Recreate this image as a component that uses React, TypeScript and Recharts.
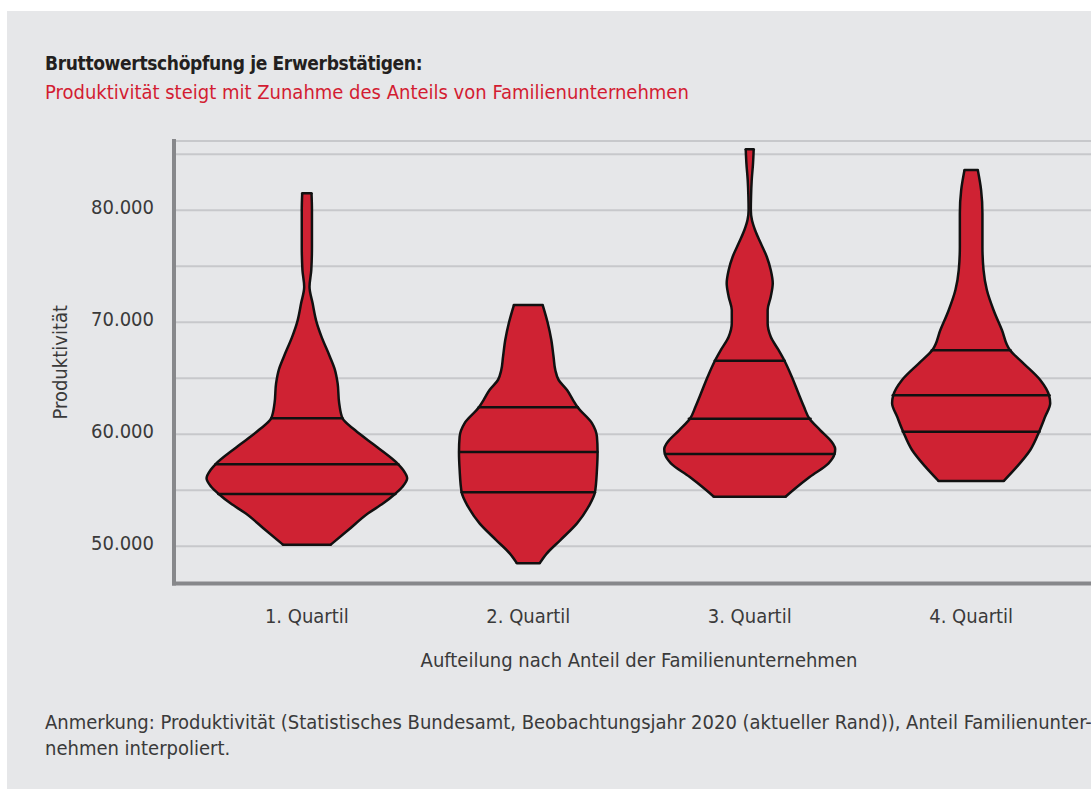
import React from "react";
import { Area, CartesianGrid, ComposedChart, Scatter, XAxis, YAxis } from "recharts";

const FONT = "'DejaVu Sans Condensed', 'Liberation Sans Narrow', 'DejaVu Sans', sans-serif";

const categories = ["1. Quartil", "2. Quartil", "3. Quartil", "4. Quartil"];
const categoryTicks = [1, 2, 3, 4];
const yTicks = [50000, 55000, 60000, 65000, 70000, 75000, 80000, 85000];
const labelledTicks = [50000, 60000, 70000, 80000];

// violin outlines, read bottom to top: [Produktivität, half width in category units]
const profile1: [number, number][] = [
  [50150, 0.108], [51450, 0.187], [52950, 0.277], [53840, 0.345], [54670, 0.398],
  [55320, 0.432], [56070, 0.453], [56810, 0.435], [57320, 0.413], [58890, 0.315],
  [60380, 0.217], [61430, 0.161], [62770, 0.146], [64550, 0.139], [65740, 0.127],
  [66930, 0.104], [68720, 0.066], [70000, 0.044], [71700, 0.026], [73180, 0.012],
  [74670, 0.02], [76750, 0.023], [80030, 0.023], [81520, 0.021],
];
const profile2: [number, number][] = [
  [48480, 0.051], [49375, 0.084], [50560, 0.145], [52050, 0.22], [53540, 0.272],
  [54820, 0.301], [56810, 0.31], [58420, 0.313], [59790, 0.31], [60980, 0.288],
  [62410, 0.223], [63060, 0.202], [63950, 0.175], [64850, 0.137], [65740, 0.122],
  [66930, 0.114], [68420, 0.104], [70000, 0.087], [71540, 0.065],
];
const profile3: [number, number][] = [
  [54430, 0.162], [55030, 0.197], [56210, 0.272], [57410, 0.356], [58240, 0.383],
  [58700, 0.386], [59200, 0.375], [60380, 0.318], [61390, 0.27], [62460, 0.245],
  [63660, 0.22], [65140, 0.19], [66570, 0.157], [67530, 0.13], [68710, 0.095],
  [69910, 0.081], [71100, 0.081], [72290, 0.095], [73480, 0.104], [74670, 0.095],
  [75860, 0.077], [77050, 0.05], [78240, 0.024], [79130, 0.01], [80030, 0.005],
  [81210, 0.006], [82700, 0.009], [84200, 0.015], [85450, 0.018],
];
const profile4: [number, number][] = [
  [55830, 0.147], [57110, 0.207], [58600, 0.267], [60230, 0.307], [61570, 0.334],
  [62770, 0.357], [63480, 0.352], [64850, 0.312], [66340, 0.236], [67500, 0.176],
  [69310, 0.139], [71100, 0.101], [72880, 0.071], [74670, 0.056], [76750, 0.051],
  [79730, 0.051], [81810, 0.045], [83600, 0.03],
];
const profiles = [profile1, profile2, profile3, profile4];

// quartile lines: [Produktivität, half width] for unteres Quartil, Median, oberes Quartil
const quartiles: [number, number][][] = [
  [[54670, 0.4], [57320, 0.413], [61430, 0.161]],
  [[54820, 0.301], [58420, 0.312], [62410, 0.224]],
  [[58240, 0.383], [61390, 0.275], [66570, 0.158]],
  [[60230, 0.309], [63480, 0.354], [67500, 0.178]],
];

const RED = "#cf2233";
const OUTLINE = "#111111";
const AXIS = "#87888b";
const TEXT = "#3a3a3a";

const keys = categories.map((_, i) => `v${i + 1}`);

// one row per outline point; the other violins get an empty range there
const rows = profiles
  .flatMap((p, i) =>
    p.map(([y, w]) => {
      const row: Record<string, any> = { y };
      keys.forEach((k, j) => {
        row[k] = j === i ? [i + 1 - w, i + 1 + w] : [null, null];
      });
      return row;
    })
  )
  .sort((a, b) => a.y - b.y);

// horizontal segments: quartiles plus the flat ends of each violin
const segments = profiles.flatMap((p, i) =>
  [p[0], p[p.length - 1], ...quartiles[i]].map(([y, w]) => [
    { x: i + 1 - w, y },
    { x: i + 1 + w, y },
  ])
);

const NoDot = () => <g />;

const formatY = (v: number) => (labelledTicks.includes(v) ? `${v / 1000}.000` : "");

export default function App() {
  return (
    <div style={{ position: "absolute", left: 0, top: 0, width: 1091, height: 789, overflow: "hidden", background: "#fff" }}>
      <div style={{ position: "absolute", left: 7, top: 11, right: 0, bottom: 0, background: "#e6e7e9" }} />
      <div style={{ position: "absolute", left: 45, top: 53, fontFamily: FONT, fontSize: 19, lineHeight: "20px", letterSpacing: -0.35, fontWeight: "bold", color: "#231f20", whiteSpace: "nowrap" }}>
        Bruttowertschöpfung je Erwerbstätigen:
      </div>
      <div style={{ position: "absolute", left: 45, top: 82, fontFamily: FONT, fontSize: 20, lineHeight: "20px", color: "#d31c32", whiteSpace: "nowrap" }}>
        Produktivität steigt mit Zunahme des Anteils von Familienunternehmen
      </div>
      <div style={{ position: "absolute", left: 0, top: 0 }}>
        <ComposedChart
          layout="vertical"
          data={rows}
          width={1104}
          height={789}
          margin={{ top: 141, right: 0, bottom: 115.5, left: 0 }}
        >
          <CartesianGrid horizontal vertical={false} stroke="#c7c8cb" strokeWidth={2} />
          <XAxis
            type="number"
            dataKey="x"
            domain={[0.4, 4.6]}
            ticks={categoryTicks}
            allowDataOverflow
            tickFormatter={(v: number) => categories[v - 1]}
            axisLine={{ stroke: AXIS, strokeWidth: 4, strokeLinecap: "square" }}
            tickLine={false}
            tickSize={8}
            tickMargin={17.5}
            height={90}
            tick={{ fontSize: 20, fill: TEXT, fontFamily: FONT }}
            label={{ value: "Aufteilung nach Anteil der Familienunternehmen", position: "insideBottom", offset: 7, fontSize: 20, fill: TEXT, fontFamily: FONT }}
          />
          <YAxis
            type="number"
            dataKey="y"
            reversed
            domain={[46680, 86190]}
            ticks={yTicks}
            interval={0}
            allowDataOverflow
            tickFormatter={formatY}
            axisLine={{ stroke: AXIS, strokeWidth: 4, strokeLinecap: "square" }}
            tickLine={false}
            tickSize={8}
            tickMargin={12}
            width={174}
            tick={{ fontSize: 20, fill: TEXT, fontFamily: FONT, dy: -3 }}
            label={{ value: "Produktivität", angle: -90, position: "insideLeft", offset: 60, fontSize: 20, fill: TEXT, fontFamily: FONT, style: { textAnchor: "middle" } }}
          />
          {keys.map((k, i) => (
            <Area
              key={k}
              name={categories[i]}
              dataKey={k}
              type="monotone"
              connectNulls
              fill={RED}
              fillOpacity={1}
              stroke={OUTLINE}
              strokeWidth={2.5}
              dot={false}
              activeDot={false}
              isAnimationActive={false}
            />
          ))}
          {segments.map((seg, i) => (
            <Scatter
              key={`seg-${i}`}
              data={seg}
              shape={NoDot}
              line={{ stroke: OUTLINE, strokeWidth: 2.5, strokeLinecap: "round" }}
              isAnimationActive={false}
            />
          ))}
        </ComposedChart>
      </div>
      <div style={{ position: "absolute", left: 45, top: 709, fontFamily: FONT, fontSize: 20, lineHeight: "26.4px", color: TEXT, whiteSpace: "nowrap" }}>
        Anmerkung: Produktivität (Statistisches Bundesamt, Beobachtungsjahr 2020 (aktueller Rand)), Anteil Familienunter-
        <br />
        nehmen interpoliert.
      </div>
    </div>
  );
}
